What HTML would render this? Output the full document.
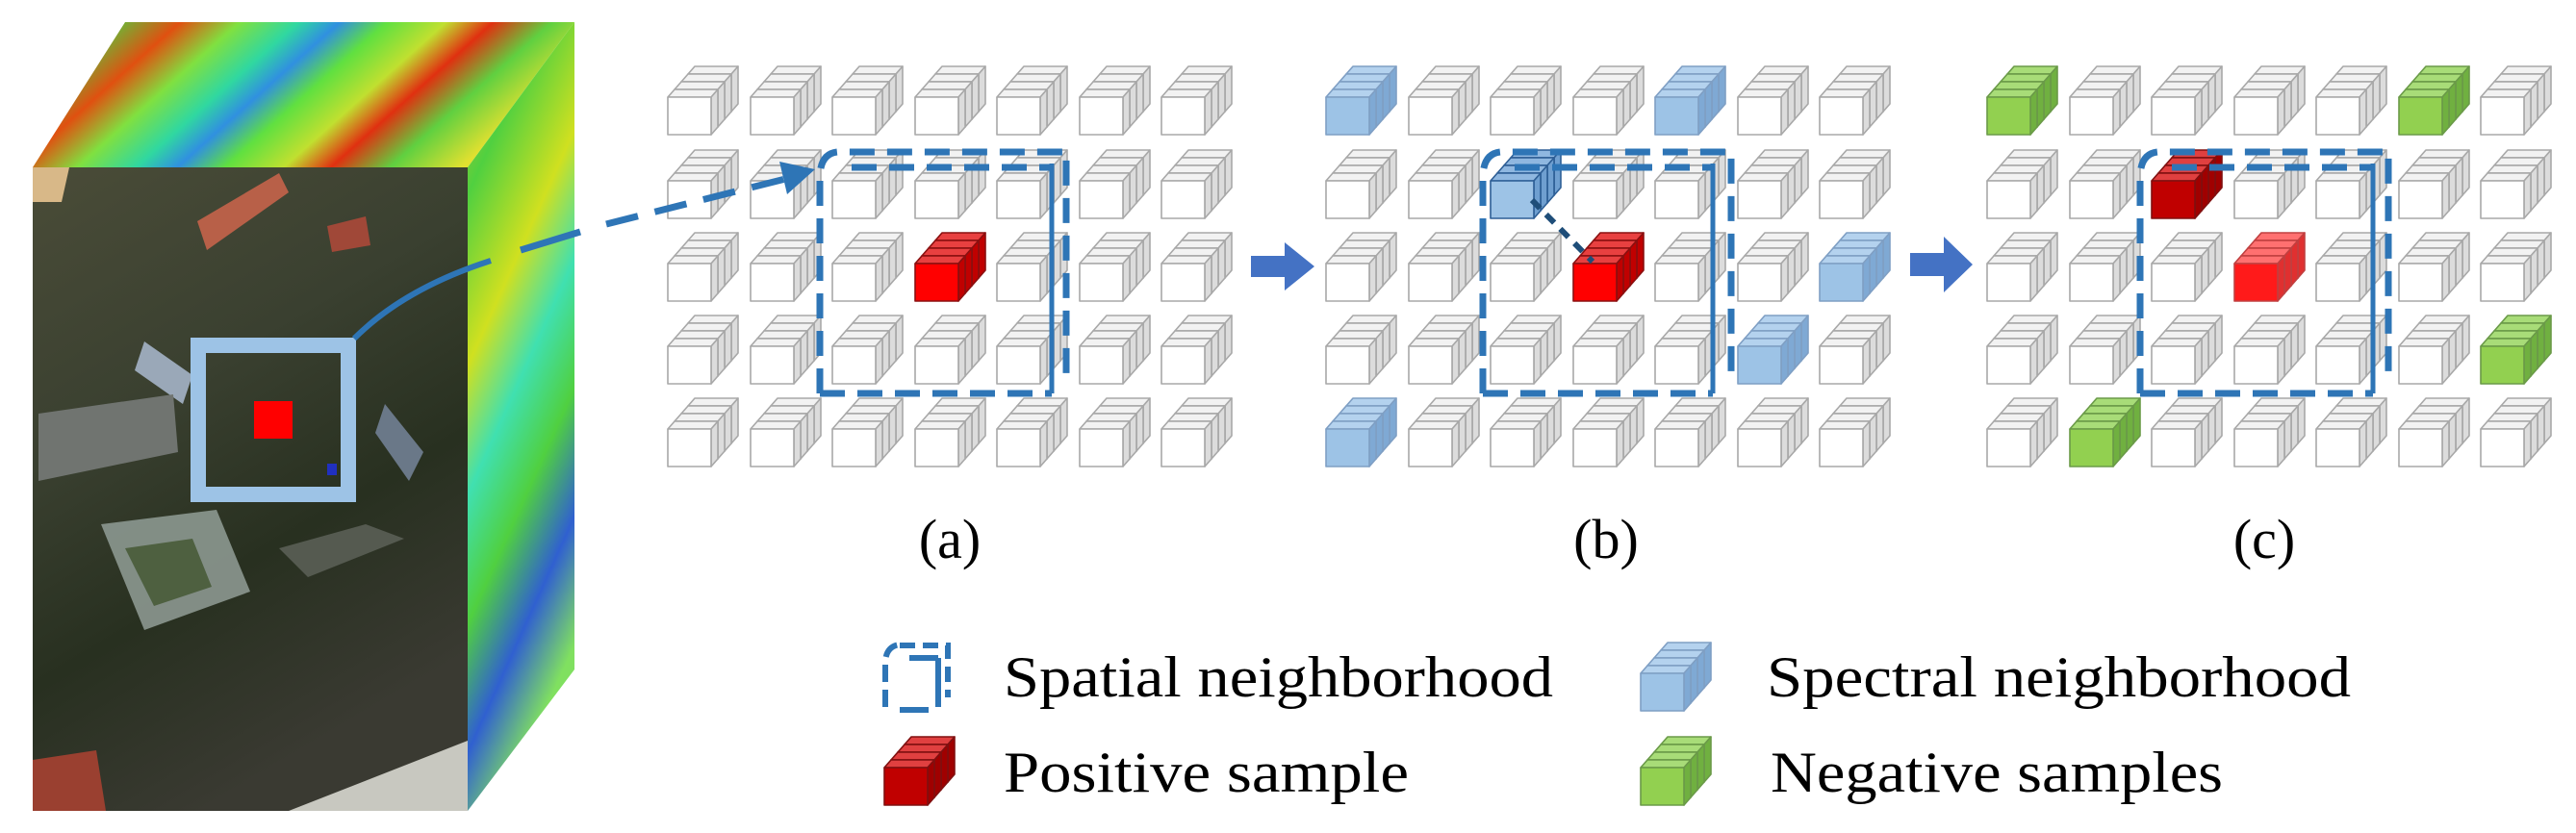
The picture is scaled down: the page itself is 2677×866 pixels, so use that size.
<!DOCTYPE html>
<html><head><meta charset="utf-8"><style>
html,body{margin:0;padding:0;background:#fff;}
svg{display:block;}
text{font-family:"Liberation Serif",serif;fill:#000;}
</style></head><body>
<svg width="2677" height="866" viewBox="0 0 2677 866" xmlns="http://www.w3.org/2000/svg">
<defs>
<linearGradient id="topg" x1="0" y1="0" x2="1" y2="0.3">
<stop offset="0" stop-color="#e8c020"/><stop offset="0.12" stop-color="#50d040"/><stop offset="0.25" stop-color="#e05010"/>
<stop offset="0.35" stop-color="#80e040"/><stop offset="0.45" stop-color="#30d8a0"/><stop offset="0.52" stop-color="#3090e0"/><stop offset="0.6" stop-color="#60e040"/>
<stop offset="0.7" stop-color="#c0e030"/><stop offset="0.78" stop-color="#e03010"/><stop offset="0.88" stop-color="#60d040"/><stop offset="1" stop-color="#e0e030"/>
</linearGradient>
<linearGradient id="rightg" x1="0" y1="0" x2="0.3" y2="1">
<stop offset="0" stop-color="#d8c020"/><stop offset="0.2" stop-color="#50d040"/><stop offset="0.4" stop-color="#d0e020"/>
<stop offset="0.55" stop-color="#40e0b0"/><stop offset="0.7" stop-color="#50d040"/><stop offset="0.85" stop-color="#3060d0"/><stop offset="1" stop-color="#80e060"/>
</linearGradient>
<linearGradient id="frontg" x1="0" y1="0" x2="0.4" y2="1">
<stop offset="0" stop-color="#4a4c38"/><stop offset="0.4" stop-color="#3a4030"/><stop offset="0.7" stop-color="#283020"/><stop offset="1" stop-color="#3a3a32"/>
</linearGradient>
</defs>

<polygon points="34,174 130,23 597,23 486,174" fill="url(#topg)"/>
<polygon points="486,174 597,23 597,696 486,843" fill="url(#rightg)"/>
<rect x="34" y="174" width="452" height="669" fill="url(#frontg)"/>
<polygon points="34,174 72,174 64,210 34,210" fill="#d8b888"/>
<polygon points="205,230 290,180 300,200 215,260" fill="#b86048"/>
<polygon points="340,235 380,225 385,255 345,262" fill="#a04838"/>
<polygon points="150,355 200,390 190,420 140,385" fill="#9aa8b8"/>
<polygon points="40,430 180,410 185,470 40,500" fill="#707470"/>
<polygon points="400,420 440,470 425,500 390,450" fill="#6a7888"/>
<polygon points="105,545 225,530 260,615 150,655" fill="#8c9890" opacity="0.9"/>
<polygon points="130,570 200,560 220,610 160,630" fill="#4e6040"/>
<polygon points="290,570 380,545 420,560 320,600" fill="#555a50"/>
<polygon points="34,790 100,780 110,843 34,843" fill="#9a4030"/>
<polygon points="300,843 486,770 486,843" fill="#c8c8c0"/>
<rect x="206" y="359" width="156" height="155" fill="none" stroke="#9dc3e6" stroke-width="16"/>
<rect x="264" y="417" width="40" height="39" fill="#ff0000"/>
<rect x="340" y="482" width="10" height="12" fill="#2030c0"/>
<path d="M368,352 Q420,300 510,271" fill="none" stroke="#2e75b6" stroke-width="6"/>
<line x1="541" y1="260" x2="603" y2="241" stroke="#2e75b6" stroke-width="7"/>

<g id="grids"></g>

<line x1="630" y1="233" x2="820" y2="185" stroke="#2e75b6" stroke-width="7" stroke-dasharray="34,18"/>
<polygon points="847,176 810,168 818,202" fill="#2e75b6"/>

<g fill="none" stroke="#2e75b6" stroke-width="7" stroke-dasharray="26,13">
<path d="M852,409 L852,185 Q852,160 870,158 L1108,158 L1108,395"/>
<path d="M852,409 L1093,409"/>
<path d="M885,174 L1093,174"/>
<path d="M1541,409 L1541,185 Q1541,160 1559,158 L1799,158 L1799,395"/>
<path d="M1541,409 L1780,409"/>
<path d="M1574,174 L1780,174"/>
<path d="M2224,409 L2224,185 Q2224,160 2242,158 L2482,158 L2482,395"/>
<path d="M2224,409 L2466,409"/>
<path d="M2257,174 L2466,174"/>
</g>
<g stroke="#2e75b6" stroke-width="5">
<line x1="1093" y1="170" x2="1093" y2="409"/>
<line x1="1780" y1="170" x2="1780" y2="409"/>
<line x1="2466" y1="170" x2="2466" y2="409"/>
</g>
<line x1="1592" y1="208" x2="1655" y2="272" stroke="#1f4e79" stroke-width="6" stroke-dasharray="12,9"/>

<polygon points="1300,266 1335,266 1335,252 1366,277 1335,302 1335,288 1300,288" fill="#4472c4"/>
<polygon points="1985,263 2020,263 2020,246 2050,275 2020,304 2020,287 1985,287" fill="#4472c4"/>

<g font-family="Liberation Serif, serif">
<text x="987" y="580" font-size="58" text-anchor="middle">(a)</text>
<text x="1669" y="580" font-size="58" text-anchor="middle">(b)</text>
<text x="2353" y="580" font-size="58" text-anchor="middle">(c)</text>
</g>

<g fill="none" stroke="#2e75b6" stroke-width="6">
<path d="M920,735 L920,690 Q920,672 935,670" stroke-dasharray="18,8"/>
<path d="M935,671 L985,671 L985,725" stroke-dasharray="16,8"/>
<line x1="945" y1="684" x2="975" y2="684"/>
<line x1="975" y1="684" x2="975" y2="735"/>
<line x1="935" y1="738" x2="965" y2="738"/>
</g>
<g id="legcubes"></g>
<g font-family="Liberation Serif, serif">
<text x="1043" y="724" font-size="60" textLength="571" lengthAdjust="spacingAndGlyphs">Spatial neighborhood</text>
<text x="1043" y="823" font-size="60" textLength="421" lengthAdjust="spacingAndGlyphs">Positive sample</text>
<text x="1836" y="724" font-size="60" textLength="607" lengthAdjust="spacingAndGlyphs">Spectral neighborhood</text>
<text x="1840" y="823" font-size="60" textLength="470" lengthAdjust="spacingAndGlyphs">Negative samples</text>
</g>
</svg>
<script>
(function(){
var NS="http://www.w3.org/2000/svg";
var pal={
 w:{f:"#ffffff",t:"#f2f2f2",s:"#dcdcdc",st:"#a8a8a8"},
 b:{f:"#9dc3e6",t:"#b4d2ee",s:"#7fa9d4",st:"#7f9fc4"},
 B:{f:"#9dc3e6",t:"#8fb7e0",s:"#6f9fd0",st:"#2e5f96"},
 r:{f:"#ff0000",t:"#e84040",s:"#c00000",st:"#8a1010"},
 R:{f:"#c00000",t:"#e04040",s:"#a00000",st:"#801010"},
 p:{f:"#ff1a1a",t:"#ff7070",s:"#e03030",st:"#c04040"},
 g:{f:"#92d050",t:"#a8dc78",s:"#70b040",st:"#6a9a48"}
};
function poly(g,pts,fill,st){var p=document.createElementNS(NS,"polygon");p.setAttribute("points",pts);p.setAttribute("fill",fill);p.setAttribute("stroke",st);p.setAttribute("stroke-width","1.6");p.setAttribute("stroke-linejoin","round");g.appendChild(p);}
function cube(g,x,y,c){
 var P=pal[c],w=45,h=39,dx=7,dy=8;
 for(var k=3;k>=0;k--){
  var X=x+k*dx,Y=y-k*dy;
  poly(g,X+","+Y+" "+(X+dx)+","+(Y-dy)+" "+(X+w+dx)+","+(Y-dy)+" "+(X+w)+","+Y,P.t,P.st);
  poly(g,(X+w)+","+Y+" "+(X+w+dx)+","+(Y-dy)+" "+(X+w+dx)+","+(Y+h-dy)+" "+(X+w)+","+(Y+h),P.s,P.st);
  poly(g,X+","+Y+" "+(X+w)+","+Y+" "+(X+w)+","+(Y+h)+" "+X+","+(Y+h),P.f,P.st);
 }
}
var G=document.getElementById("grids");
var rows=[101,188,274,360,446];
var starts=[694,1378,2065],sp=85.5;
var special=[
 {"2,3":"r"},
 {"0,0":"b","0,4":"b","1,2":"B","2,6":"b","3,5":"b","4,0":"b","2,3":"r"},
 {"0,0":"g","0,5":"g","3,6":"g","4,1":"g","1,2":"R","2,3":"p"}
];
for(var gi=0;gi<3;gi++)for(var r=0;r<5;r++)for(var c=0;c<7;c++){
 var key=r+","+c;cube(G,Math.round(starts[gi]+c*sp),rows[r],special[gi][key]||"w");
}
var L=document.getElementById("legcubes");
cube(L,919,798,"R");
cube(L,1705,700,"b");
cube(L,1705,798,"g");
})();
</script>
</body></html>
